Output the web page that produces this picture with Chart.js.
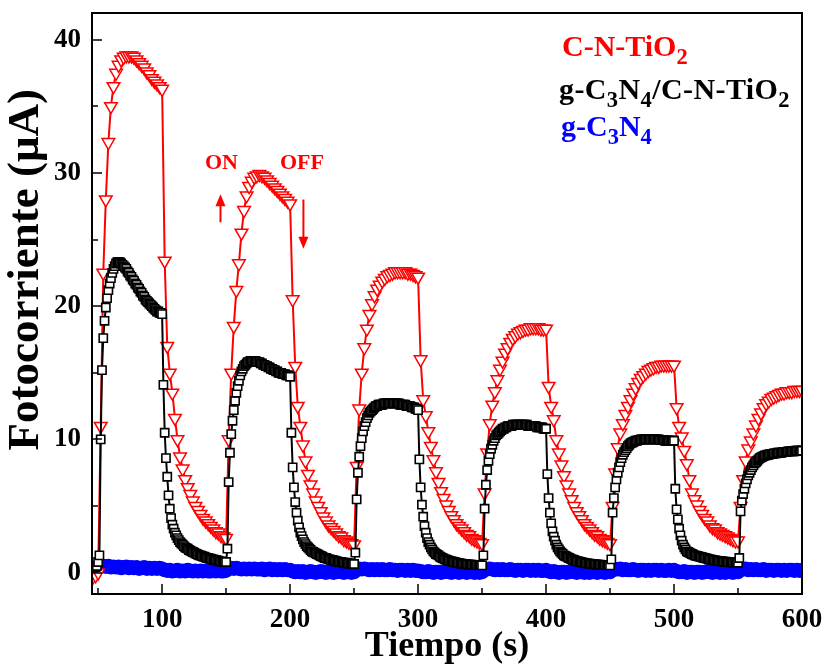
<!DOCTYPE html>
<html>
<head>
<meta charset="utf-8">
<script src="https://cdn.jsdelivr.net/npm/chart.js@4.4.0/dist/chart.umd.min.js"></script>
<style>
  body { margin: 0; background: #fff; }
  #wrap { position: relative; width: 825px; height: 667px; }
  #grafico { position: absolute; left: 0; top: 0; }
  .txt { position: absolute; font-family: "Liberation Serif", "Times New Roman", serif; font-weight: bold; white-space: nowrap; line-height: 1; }
  .txt sub { font-size: 0.75em; vertical-align: -8px; line-height: 0; }
</style>
</head>
<body>
<div id="wrap">
  <canvas id="grafico" width="825" height="667"></canvas>
  <div class="txt" style="left:562px; top:31px; font-size:30px; color:#ff0000">C-N-TiO<sub>2</sub></div>
  <div class="txt" style="left:559px; top:74px; font-size:30px; color:#000000; letter-spacing:0.4px">g-C<sub>3</sub>N<sub>4</sub>/C-N-TiO<sub>2</sub></div>
  <div class="txt" style="left:561px; top:111px; font-size:30px; color:#0000ff">g-C<sub>3</sub>N<sub>4</sub></div>
  <div class="txt" style="left:205px; top:151px; font-size:22px; color:#ff0000">ON</div>
  <div class="txt" style="left:280px; top:151px; font-size:22px; color:#ff0000">OFF</div>
</div>
<script>
// tiempos de medida (s)
const tiemposRojo = [46,48,50,
  52,54,56,58,60,62,64,66,68,70,72,74,76,78,80,82,84,86,88,90,92,94,96,98,100,
  102,104,106,108,110,112,114,116,118,120,122,124,126,128,130,132,134,136,138,140,142,144,146,148,150,
  152,154,156,158,160,162,164,166,168,170,172,174,176,178,180,182,184,186,188,190,192,194,196,198,200,
  202,204,206,208,210,212,214,216,218,220,222,224,226,228,230,232,234,236,238,240,242,244,246,248,250,
  252,254,256,258,260,262,264,266,268,270,272,274,276,278,280,282,284,286,288,290,292,294,296,298,300,
  302,304,306,308,310,312,314,316,318,320,322,324,326,328,330,332,334,336,338,340,342,344,346,348,350,
  352,354,356,358,360,362,364,366,368,370,372,374,376,378,380,382,384,386,388,390,392,394,396,398,400,
  402,404,406,408,410,412,414,416,418,420,422,424,426,428,430,432,434,436,438,440,442,444,446,448,450,
  452,454,456,458,460,462,464,466,468,470,472,474,476,478,480,482,484,486,488,490,492,494,496,498,500,
  502,504,506,508,510,512,514,516,518,520,522,524,526,528,530,532,534,536,538,540,542,544,546,548,550,
  552,554,556,558,560,562,564,566,568,570,572,574,576,578,580,582,584,586,588,590,592,594,596,598,600];

const tiemposNegro = [45,46,47,48,49,50,
  51,52,53,54,55,56,57,58,59,60,61,62,63,64,65,66,67,68,69,70,71,72,73,74,75,76,77,78,79,80,81,82,83,84,85,86,87,88,89,90,91,92,93,94,95,96,97,98,99,100,
  101,102,103,104,105,106,107,108,109,110,111,112,113,114,115,116,117,118,119,120,121,122,123,124,125,126,127,128,129,130,131,132,133,134,135,136,137,138,139,140,141,142,143,144,145,146,147,148,149,150,
  151,152,153,154,155,156,157,158,159,160,161,162,163,164,165,166,167,168,169,170,171,172,173,174,175,176,177,178,179,180,181,182,183,184,185,186,187,188,189,190,191,192,193,194,195,196,197,198,199,200,
  201,202,203,204,205,206,207,208,209,210,211,212,213,214,215,216,217,218,219,220,221,222,223,224,225,226,227,228,229,230,231,232,233,234,235,236,237,238,239,240,241,242,243,244,245,246,247,248,249,250,
  251,252,253,254,255,256,257,258,259,260,261,262,263,264,265,266,267,268,269,270,271,272,273,274,275,276,277,278,279,280,281,282,283,284,285,286,287,288,289,290,291,292,293,294,295,296,297,298,299,300,
  301,302,303,304,305,306,307,308,309,310,311,312,313,314,315,316,317,318,319,320,321,322,323,324,325,326,327,328,329,330,331,332,333,334,335,336,337,338,339,340,341,342,343,344,345,346,347,348,349,350,
  351,352,353,354,355,356,357,358,359,360,361,362,363,364,365,366,367,368,369,370,371,372,373,374,375,376,377,378,379,380,381,382,383,384,385,386,387,388,389,390,391,392,393,394,395,396,397,398,399,400,
  401,402,403,404,405,406,407,408,409,410,411,412,413,414,415,416,417,418,419,420,421,422,423,424,425,426,427,428,429,430,431,432,433,434,435,436,437,438,439,440,441,442,443,444,445,446,447,448,449,450,
  451,452,453,454,455,456,457,458,459,460,461,462,463,464,465,466,467,468,469,470,471,472,473,474,475,476,477,478,479,480,481,482,483,484,485,486,487,488,489,490,491,492,493,494,495,496,497,498,499,500,
  501,502,503,504,505,506,507,508,509,510,511,512,513,514,515,516,517,518,519,520,521,522,523,524,525,526,527,528,529,530,531,532,533,534,535,536,537,538,539,540,541,542,543,544,545,546,547,548,549,550,
  551,552,553,554,555,556,557,558,559,560,561,562,563,564,565,566,567,568,569,570,571,572,573,574,575,576,577,578,579,580,581,582,583,584,585,586,587,588,589,590,591,592,593,594,595,596,597,598,599,600];

// C-N-TiO2 (uA)
const corrienteCNTiO2 = [-0.3,-0.2,0.0,
  11.0,22.5,28.0,32.3,35.0,36.5,37.5,38.1,38.5,38.7,38.8,38.8,38.8,38.7,38.5,38.3,38.1,37.9,37.6,37.4,37.1,36.9,36.7,36.5,36.3,
  23.4,17.0,15.0,13.5,11.6,10.0,8.7,7.8,7.0,6.4,5.9,5.4,5.0,4.7,4.4,4.1,3.9,3.7,3.5,3.3,3.1,3.0,2.8,2.7,2.6,
  10.0,15.0,18.5,21.2,23.2,25.5,27.2,28.3,29.0,29.4,29.7,29.8,29.9,29.8,29.7,29.5,29.3,29.1,28.9,28.7,28.5,28.3,28.1,27.9,27.7,
  20.5,15.5,12.5,11.0,9.6,8.4,7.4,6.6,6.0,5.4,5.0,4.6,4.2,3.9,3.6,3.4,3.2,3.0,2.8,2.7,2.5,2.4,2.3,2.2,2.1,
  8.0,12.3,15.0,16.9,18.3,19.4,20.2,20.8,21.3,21.6,21.9,22.1,22.3,22.4,22.5,22.6,22.6,22.6,22.6,22.6,22.5,22.5,22.4,22.3,22.2,
  16.0,13.0,11.8,10.6,9.5,8.5,7.6,6.8,6.1,5.6,5.1,4.7,4.3,4.0,3.7,3.5,3.3,3.1,2.9,2.8,2.6,2.5,2.4,2.3,2.2,
  6.0,9.0,11.2,12.6,13.6,14.5,15.3,15.9,16.5,16.9,17.3,17.6,17.8,18.0,18.1,18.2,18.3,18.3,18.4,18.4,18.4,18.4,18.3,18.3,18.3,
  14.0,12.5,11.5,10.0,9.0,8.1,7.3,6.6,6.0,5.5,5.0,4.6,4.3,4.0,3.7,3.5,3.3,3.1,2.9,2.8,2.6,2.5,2.4,2.3,2.2,
  5.0,7.5,9.4,10.5,11.2,11.9,12.5,13.0,13.5,13.9,14.3,14.6,14.8,15.0,15.2,15.3,15.4,15.5,15.5,15.6,15.6,15.6,15.6,15.6,15.6,
  12.4,11.0,10.2,9.2,8.2,7.0,6.0,5.5,5.1,4.7,4.4,4.1,3.9,3.6,3.4,3.3,3.1,3.0,2.9,2.8,2.7,2.6,2.5,2.4,2.4,
  5.0,7.0,8.4,9.3,9.9,10.5,11.1,11.6,12.0,12.4,12.7,12.9,13.1,13.2,13.3,13.4,13.5,13.5,13.6,13.6,13.6,13.7,13.7,13.7,13.7];

// g-C3N4/C-N-TiO2 (uA)
const corrienteCompuesto = [0.4,0.4,0.4,0.4,0.5,0.8,
  1.3,10.0,15.2,17.6,18.9,19.9,20.6,21.2,21.7,22.1,22.5,22.8,23.0,23.2,23.3,23.3,23.3,23.2,23.1,23.0,22.9,22.8,22.6,22.5,22.3,22.2,22.0,21.9,21.7,21.6,21.4,21.3,21.1,21.0,20.8,20.7,20.5,20.4,20.3,20.2,20.1,20.0,19.9,19.8,19.7,19.6,19.6,19.5,19.5,19.4,
  14.1,10.5,8.6,7.2,5.8,4.8,4.1,3.6,3.3,3.0,2.8,2.6,2.45,2.3,2.2,2.1,2.0,1.9,1.85,1.8,1.7,1.65,1.6,1.55,1.5,1.45,1.4,1.35,1.3,1.3,1.25,1.2,1.2,1.15,1.1,1.1,1.05,1.05,1.0,1.0,0.95,0.95,0.9,0.9,0.85,0.85,0.8,0.8,0.8,0.8,
  1.8,6.8,9.0,10.4,11.4,12.2,12.9,13.5,14.0,14.4,14.8,15.1,15.3,15.5,15.6,15.7,15.8,15.8,15.9,15.9,15.9,15.9,15.9,15.8,15.8,15.8,15.7,15.7,15.6,15.6,15.5,15.5,15.4,15.4,15.3,15.3,15.2,15.2,15.1,15.1,15.0,15.0,15.0,14.9,14.9,14.9,14.8,14.8,14.8,14.7,
  10.5,7.9,6.4,5.3,4.5,3.9,3.4,3.0,2.75,2.5,2.3,2.15,2.0,1.9,1.8,1.7,1.6,1.55,1.5,1.45,1.4,1.35,1.3,1.25,1.2,1.15,1.1,1.1,1.05,1.0,1.0,0.95,0.95,0.9,0.9,0.85,0.85,0.8,0.8,0.8,0.75,0.75,0.75,0.7,0.7,0.7,0.7,0.65,0.65,0.65,
  1.5,5.5,7.5,8.7,9.5,10.1,10.6,11.0,11.3,11.6,11.8,12.0,12.1,12.2,12.3,12.4,12.5,12.5,12.6,12.6,12.6,12.6,12.7,12.7,12.7,12.7,12.7,12.7,12.7,12.7,12.7,12.7,12.7,12.7,12.7,12.6,12.6,12.6,12.6,12.6,12.5,12.5,12.5,12.5,12.4,12.4,12.4,12.3,12.3,12.2,
  8.5,6.4,5.1,4.2,3.5,3.0,2.6,2.3,2.1,1.9,1.75,1.6,1.5,1.4,1.35,1.3,1.2,1.15,1.1,1.05,1.0,0.97,0.94,0.9,0.87,0.84,0.82,0.8,0.78,0.76,0.74,0.72,0.7,0.68,0.66,0.65,0.64,0.63,0.62,0.61,0.6,0.6,0.59,0.58,0.58,0.57,0.57,0.56,0.56,0.55,
  1.3,4.8,6.6,7.7,8.4,8.9,9.3,9.6,9.9,10.1,10.3,10.4,10.5,10.6,10.7,10.8,10.8,10.9,10.9,11.0,11.0,11.0,11.0,11.1,11.1,11.1,11.1,11.1,11.1,11.1,11.1,11.1,11.1,11.1,11.1,11.0,11.0,11.0,11.0,11.0,11.0,11.0,10.9,10.9,10.9,10.9,10.9,10.8,10.8,10.8,
  7.4,5.6,4.5,3.7,3.1,2.7,2.4,2.1,1.9,1.75,1.6,1.5,1.4,1.3,1.25,1.2,1.15,1.1,1.05,1.0,0.97,0.94,0.9,0.87,0.84,0.82,0.8,0.78,0.76,0.74,0.72,0.7,0.68,0.67,0.66,0.65,0.64,0.63,0.62,0.61,0.6,0.6,0.59,0.58,0.58,0.57,0.57,0.56,0.56,0.55,
  1.0,4.5,5.6,6.4,7.0,7.5,7.9,8.3,8.6,8.85,9.05,9.2,9.35,9.5,9.6,9.7,9.75,9.8,9.85,9.9,9.9,9.95,9.95,10.0,10.0,10.0,10.0,10.0,10.0,10.0,10.0,10.0,10.0,10.0,10.0,10.0,10.0,10.0,9.95,9.95,9.95,9.95,9.9,9.9,9.9,9.9,9.9,9.9,9.9,9.9,
  6.3,4.75,4.0,3.3,2.8,2.4,2.1,1.9,1.75,1.6,1.55,1.5,1.45,1.4,1.35,1.3,1.28,1.25,1.22,1.2,1.18,1.15,1.12,1.1,1.07,1.05,1.02,1.0,0.98,0.96,0.94,0.92,0.9,0.88,0.87,0.86,0.85,0.84,0.83,0.82,0.81,0.8,0.79,0.78,0.77,0.76,0.75,0.75,0.74,0.74,
  1.1,4.6,5.4,5.9,6.3,6.7,7.0,7.3,7.5,7.7,7.9,8.05,8.2,8.3,8.4,8.5,8.6,8.65,8.7,8.75,8.8,8.8,8.85,8.85,8.9,8.9,8.9,8.95,8.95,8.95,9.0,9.0,9.0,9.0,9.05,9.05,9.05,9.05,9.1,9.1,9.1,9.1,9.1,9.1,9.15,9.15,9.15,9.15,9.15,9.15];

// g-C3N4 (uA), mismos tiempos que C-N-TiO2
const corrienteGC3N4 = [0.05,0.15,0.45,
  0.55,0.5,0.45,0.5,0.4,0.45,0.4,0.45,0.35,0.4,0.45,0.35,0.4,0.35,0.4,0.3,0.35,0.4,0.3,0.35,0.3,0.35,0.3,0.35,0.3,
  0.2,0.15,0.2,0.1,0.15,0.2,0.1,0.15,0.1,0.2,0.15,0.1,0.15,0.1,0.15,0.1,0.15,0.1,0.1,0.15,0.1,0.15,0.1,0.1,0.15,
  0.35,0.35,0.3,0.35,0.3,0.25,0.3,0.25,0.3,0.25,0.3,0.25,0.25,0.3,0.2,0.25,0.3,0.2,0.25,0.2,0.25,0.2,0.25,0.2,0.2,
  0.1,0.05,0.1,0.05,0.1,0.0,0.05,0.1,0.05,0.0,0.05,0.1,0.05,0.0,0.05,0.05,0.0,0.05,0.1,0.05,0.0,0.05,0.05,0.0,0.05,
  0.3,0.3,0.25,0.3,0.25,0.2,0.25,0.2,0.25,0.2,0.25,0.2,0.2,0.25,0.2,0.2,0.15,0.2,0.2,0.15,0.2,0.15,0.2,0.15,0.15,
  0.1,0.05,0.05,0.1,0.05,0.0,0.05,0.05,0.0,0.05,0.1,0.05,0.0,0.05,0.05,0.0,0.05,0.05,0.0,0.05,0.05,0.0,0.05,0.0,0.05,
  0.3,0.25,0.3,0.25,0.2,0.25,0.2,0.25,0.2,0.2,0.25,0.2,0.15,0.2,0.2,0.15,0.2,0.2,0.15,0.2,0.15,0.2,0.15,0.15,0.2,
  0.1,0.05,0.1,0.05,0.0,0.05,0.05,0.0,0.05,0.1,0.05,0.0,0.05,0.05,0.0,0.05,0.0,0.05,0.05,0.0,0.05,0.05,0.0,0.05,0.05,
  0.3,0.25,0.25,0.3,0.2,0.25,0.2,0.2,0.25,0.2,0.15,0.2,0.2,0.15,0.2,0.15,0.2,0.2,0.15,0.2,0.15,0.15,0.2,0.15,0.2,
  0.1,0.05,0.05,0.1,0.0,0.05,0.05,0.0,0.05,0.05,0.0,0.05,0.1,0.05,0.0,0.05,0.05,0.0,0.05,0.0,0.05,0.05,0.0,0.05,0.05,
  0.3,0.25,0.3,0.2,0.25,0.2,0.25,0.2,0.2,0.25,0.15,0.2,0.2,0.15,0.2,0.2,0.15,0.2,0.15,0.2,0.2,0.15,0.2,0.15,0.2];

// marcas de los ejes
const marcasX = [50,100,150,200,250,300,350,400,450,500,550,600];
const marcasY = [0,5,10,15,20,25,30,35,40];

// flechas ON / OFF (tiempo, desde, hasta)
const flechaOn  = [145.6, 26.3, 28.4];
const flechaOff = [210.4, 28.0, 24.3];

const FUENTE = '"Liberation Serif", "Times New Roman", serif';

const puntos = function (tiempos, valores) {
    return tiempos.map((t, i) => ({ x: t, y: valores[i] }));
}

const dibujarFlecha = function (ctx, x, y0, y1) {
    const dir = y1 < y0 ? -1 : 1;
    ctx.beginPath();
    ctx.moveTo(x, y0);
    ctx.lineTo(x, y1 - dir * 10);
    ctx.stroke();
    ctx.beginPath();
    ctx.moveTo(x, y1);
    ctx.lineTo(x - 5, y1 - dir * 12);
    ctx.lineTo(x + 5, y1 - dir * 12);
    ctx.closePath();
    ctx.fill();
}

const marcasPlugin = {
    id: 'marcas',
    afterDatasetsDraw(chart) {
        const { ctx, chartArea: a, scales: { x, y } } = chart;
        ctx.save();
        ctx.strokeStyle = '#000';
        ctx.lineWidth = 1.5;
        marcasX.forEach((v) => {
            const px = Math.round(x.getPixelForValue(v));
            const largo = (v % 100 === 0) ? 10 : 6;
            ctx.beginPath(); ctx.moveTo(px, a.bottom); ctx.lineTo(px, a.bottom - largo); ctx.stroke();
        });
        marcasY.forEach((v) => {
            const py = Math.round(y.getPixelForValue(v));
            const largo = (v % 10 === 0) ? 10 : 6;
            ctx.beginPath(); ctx.moveTo(a.left, py); ctx.lineTo(a.left + largo, py); ctx.stroke();
        });
        ctx.lineWidth = 2;
        ctx.strokeRect(a.left, a.top, a.right - a.left, a.bottom - a.top);

        ctx.strokeStyle = '#ff0000';
        ctx.fillStyle = '#ff0000';
        ctx.lineWidth = 2;
        [flechaOn, flechaOff].forEach((f) => {
            dibujarFlecha(ctx, x.getPixelForValue(f[0]), y.getPixelForValue(f[1]), y.getPixelForValue(f[2]));
        });
        ctx.restore();
    }
}

const config = {
    type: 'line',
    data: {
        datasets: [
            {
                label: 'g-C3N4/C-N-TiO2', order: 0,
                data: puntos(tiemposNegro, corrienteCompuesto),
                borderColor: '#000000', borderWidth: 2,
                pointStyle: 'rect', pointRadius: 5.8, pointBorderWidth: 1.6,
                pointBorderColor: '#000000', pointBackgroundColor: '#ffffff'
            },
            {
                label: 'C-N-TiO2', order: 1,
                data: puntos(tiemposRojo, corrienteCNTiO2),
                borderColor: '#ff0000', borderWidth: 2,
                pointStyle: 'triangle', pointRotation: 180, pointRadius: 7.3, pointBorderWidth: 1.5,
                pointBorderColor: '#ff0000', pointBackgroundColor: '#ffffff'
            },
            {
                label: 'g-C3N4', order: 2,
                data: puntos(tiemposRojo, corrienteGC3N4),
                borderColor: '#0000ff', borderWidth: 2,
                pointStyle: 'circle', pointRadius: 6.5, pointBorderWidth: 1.5,
                pointBorderColor: '#0000ff', pointBackgroundColor: '#0000ff'
            }
        ]
    },
    options: {
        responsive: false,
        animation: false,
        layout: { padding: { left: 0, right: 23, top: 13, bottom: 0 } },
        elements: { line: { tension: 0 } },
        plugins: { legend: { display: false }, tooltip: { enabled: false } },
        scales: {
            x: {
                type: 'linear', min: 45.2, max: 600,
                grid: { display: false, drawTicks: false },
                border: { display: false },
                ticks: { stepSize: 100, includeBounds: false, autoSkip: false, maxRotation: 0, padding: 10,
                         color: '#000', font: { family: FUENTE, size: 27, weight: 'bold' } },
                title: { display: true, text: 'Tiempo (s)', color: '#000', padding: 0,
                         font: { family: FUENTE, size: 36, weight: 'bold', lineHeight: 1.1 } },
                afterFit(scale) { scale.height = 73; scale.paddingLeft = 0; scale.paddingRight = 0; }
            },
            y: {
                min: -1.6, max: 42,
                grid: { display: false, drawTicks: false },
                border: { display: false },
                ticks: { stepSize: 10, includeBounds: false, padding: 11,
                         color: '#000', font: { family: FUENTE, size: 27, weight: 'bold' } },
                title: { display: true, text: '      Fotocorriente (\u03bcA)', color: '#000', padding: { top: 2, bottom: 0 },
                         font: { family: FUENTE, size: 45, weight: 'bold', lineHeight: 1.1 } },
                afterFit(scale) { scale.width = 92; scale.paddingTop = 0; scale.paddingBottom = 0; }
            }
        }
    },
    plugins: [marcasPlugin]
}

new Chart(document.getElementById('grafico'), config);
</script>
</body>
</html>
